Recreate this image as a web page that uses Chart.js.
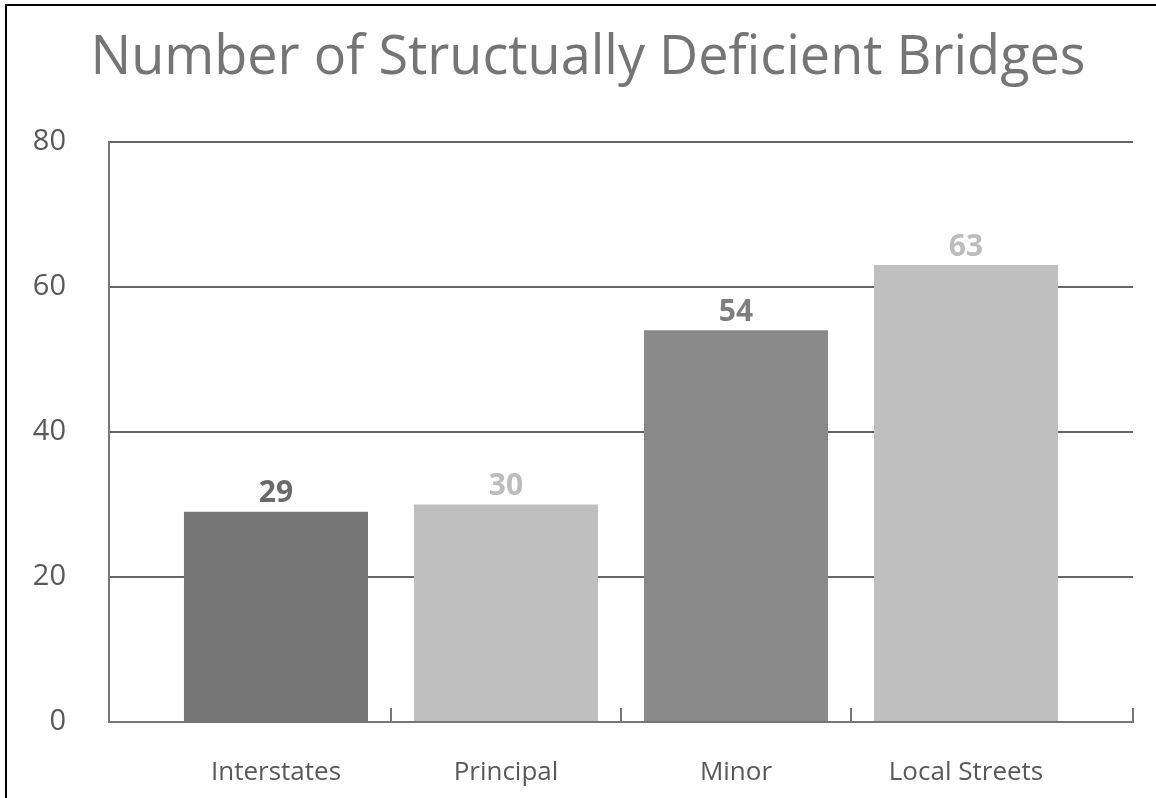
<!DOCTYPE html>
<html>
<head>
<meta charset="utf-8">
<script src="https://cdn.jsdelivr.net/npm/chart.js@4"></script>
<style>
  html, body { margin: 0; padding: 0; background: #fff; }
  #frame {
    position: absolute; left: 5px; top: 4px;
    width: 1149px; height: 792px;
    border-left: 2px solid #000; border-top: 2px solid #000;
  }
</style>
</head>
<body>
<div id="frame"><canvas id="bridgeChart" width="1149" height="792"></canvas></div>
<script>
const categories = ['Interstates', 'Principal', 'Minor', 'Local Streets'];
const bridgeCounts = [29, 30, 54, 63];
const barColors = ['#777777', '#bfbfbf', '#898989', '#bfbfbf'];
const labelColors = ['#6a6a6a', '#bcbcbc', '#7f7f7f', '#bcbcbc'];
const yTicks = [0, 20, 40, 60, 80];

const FONT = "'Open Sans', 'Noto Sans', sans-serif";

// numbers above bars, same tone as the bar
const barValueLabels = {
  id: 'barValueLabels',
  afterDatasetsDraw(chart) {
    const ctx = chart.ctx;
    const meta = chart.getDatasetMeta(0);
    ctx.save();
    ctx.font = 'bold 30px ' + FONT;
    ctx.textAlign = 'center';
    ctx.textBaseline = 'bottom';
    meta.data.forEach((bar, i) => {
      ctx.fillStyle = labelColors[i];
      ctx.fillText(bridgeCounts[i], bar.x, bar.y - 3);
    });
    ctx.restore();
  }
};

// small tick marks standing on the x axis between categories
const categoryTicks = {
  id: 'categoryTicks',
  afterDraw(chart) {
    const ctx = chart.ctx;
    const x = chart.scales.x;
    const bottom = chart.chartArea.bottom;
    const spots = [];
    for (let i = 0; i < categories.length - 1; i++) spots.push(x.getPixelForValue(i + 0.5));
    spots.push(chart.chartArea.right);
    ctx.save();
    ctx.strokeStyle = '#777777';
    ctx.lineWidth = 2;
    spots.forEach(px => {
      ctx.beginPath();
      ctx.moveTo(px, bottom);
      ctx.lineTo(px, bottom - 14);
      ctx.stroke();
    });
    ctx.restore();
  }
};

// title sits a bit right of the canvas centre in the original
const nudgeTitle = {
  id: 'nudgeTitle',
  afterLayout(chart) {
    if (chart.titleBlock) chart.titleBlock.left += 36;
  }
};

const ctx = document.getElementById('bridgeChart').getContext('2d');
new Chart(ctx, {
  type: 'bar',
  data: {
    datasets: [{
      data: bridgeCounts.map((v, i) => ({ x: i, y: v })),
      backgroundColor: barColors,
      borderWidth: 0,
      categoryPercentage: 1,
      barPercentage: 0.8
    }]
  },
  options: {
    responsive: false,
    animation: false,
    layout: { padding: { left: 0, right: 23, top: 0, bottom: 0 } },
    plugins: {
      legend: { display: false },
      tooltip: { enabled: false },
      title: {
        display: true,
        text: 'Number of Structually Deficient Bridges',
        color: '#757575',
        font: { family: FONT, size: 54, weight: 'normal' },
        padding: { top: 20, bottom: 51 }
      }
    },
    scales: {
      x: {
        type: 'linear',
        offset: false,
        min: -0.726,
        max: categories.length - 1 + 0.726,
        afterBuildTicks(scale) {
          scale.ticks = categories.map((_, i) => ({ value: i }));
        },
        afterFit(scale) { scale.height = 76; },
        grid: { display: false, drawTicks: false, offset: false },
        border: { display: true, color: '#777777', width: 2 },
        ticks: {
          autoSkip: false,
          maxRotation: 0,
          padding: 35,
          color: '#595959',
          font: { family: FONT, size: 26 },
          callback: v => categories[v]
        }
      },
      y: {
        min: 0,
        max: 80,
        afterBuildTicks(scale) {
          scale.ticks = yTicks.map(v => ({ value: v }));
        },
        afterFit(scale) { scale.width = 102; },
        grid: { color: '#666666', lineWidth: 2, drawTicks: false },
        border: { display: true, color: '#777777', width: 2 },
        ticks: {
          padding: 43,
          color: '#595959',
          font: { family: FONT, size: 29 }
        }
      }
    }
  },
  plugins: [barValueLabels, categoryTicks, nudgeTitle]
});
</script>
</body>
</html>
